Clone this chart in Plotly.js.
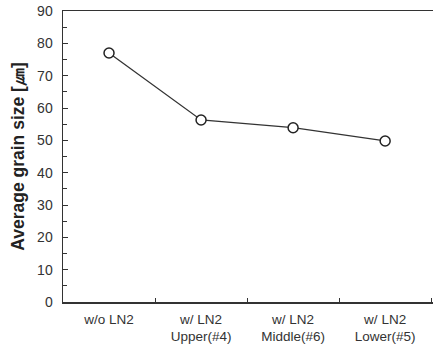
<!DOCTYPE html>
<html><head><meta charset="utf-8">
<script src="https://cdn.plot.ly/plotly-3.0.1.min.js"></script>
<style>html,body{margin:0;padding:0;background:#fff}</style>
</head><body>
<div id="chart" style="width:433px;height:346px"></div>
<script>
const categories = ["w/o LN2", "w/ LN2<br>Upper(#4)", "w/ LN2<br>Middle(#6)", "w/ LN2<br>Lower(#5)"];
const grainSize = [77.0, 56.3, 53.9, 49.8];
const yTicks = [0, 10, 20, 30, 40, 50, 60, 70, 80, 90];

const trace = {
  x: categories, y: grainSize, type: "scatter", mode: "lines+markers",
  line: {color: "#333333", width: 1.3},
  marker: {symbol: "circle", size: 10, color: "#ffffff", line: {color: "#222222", width: 1.5}},
  cliponaxis: false, hoverinfo: "skip"
};
const layout = {
  width: 433, height: 346,
  margin: {l: 63, r: 0, t: 11, b: 44},
  paper_bgcolor: "#ffffff", plot_bgcolor: "#ffffff",
  font: {family: "Liberation Sans, Arial, sans-serif", color: "#333333"},
  showlegend: false,
  xaxis: {
    type: "category", range: [-0.5, 3.52], tickson: "boundaries",
    ticks: "inside", ticklen: 4, tickcolor: "#333", tickwidth: 1,
    showline: true, linecolor: "#333", linewidth: 1.5, mirror: true,
    showgrid: false, zeroline: false, ticklabelstandoff: 4,
    tickfont: {size: 13.5, color: "#333"}
  },
  yaxis: {
    range: [0, 90], tickvals: yTicks, ticks: "inside", ticklen: 5,
    tickcolor: "#333", tickwidth: 1,
    minor: {dtick: 5, ticks: "inside", ticklen: 4, tickcolor: "#333", showgrid: false},
    showline: true, linecolor: "#333", linewidth: 1.5, mirror: true,
    showgrid: false, zeroline: false, ticklabelstandoff: 6,
    tickfont: {size: 14, color: "#333"},
    title: {text: "<b>Average grain size [㎛]</b>", font: {size: 17.5, color: "#222"}, standoff: 8}
  }
};
Plotly.newPlot("chart", [trace], layout, {staticPlot: true, displayModeBar: false});
</script>
</body></html>
